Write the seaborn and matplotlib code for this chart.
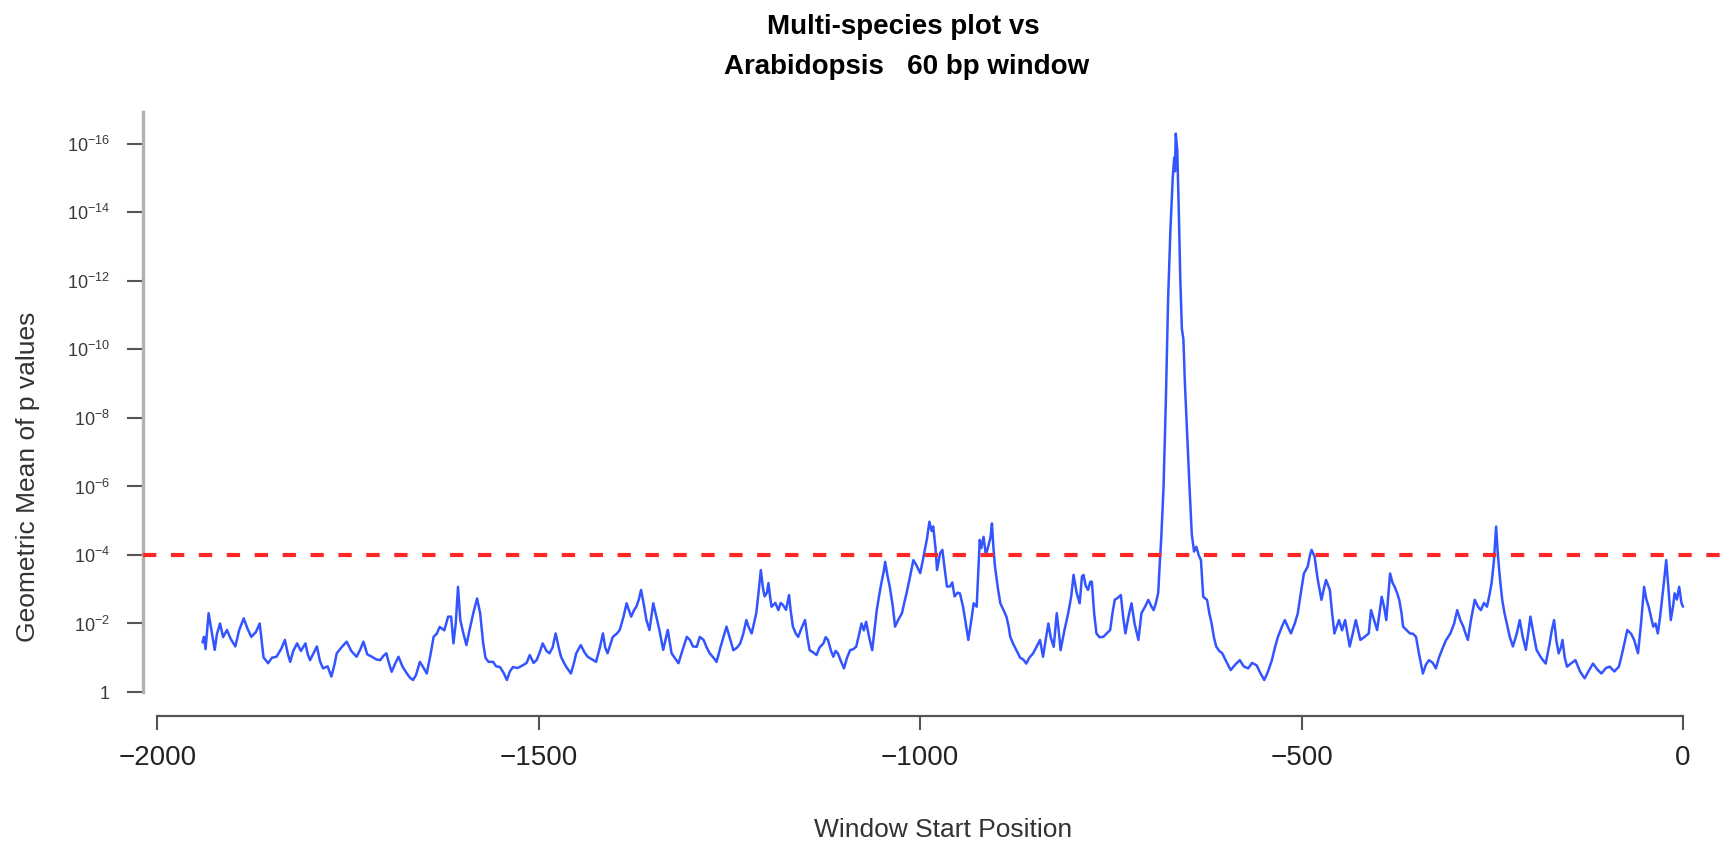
import matplotlib
matplotlib.use("Agg")
import matplotlib.pyplot as plt
import seaborn as sns
import pandas as pd

# ---- data (window start position, -log10 geometric mean p) ----
positions = [
    -1941, -1939, -1937, -1933, -1930, -1925, -1922, -1918, -1914, -1909, -1904, -1898, -1893, -1887, -1882, -1877,
    -1871, -1866, -1861, -1855, -1850, -1844, -1838, -1833, -1829, -1826, -1822, -1817, -1812, -1806, -1803, -1800,
    -1795, -1791, -1787, -1783, -1777, -1772, -1768, -1765, -1759, -1752, -1746, -1739, -1734, -1730, -1725, -1719,
    -1713, -1708, -1704, -1700, -1696, -1693, -1688, -1684, -1679, -1673, -1669, -1665, -1661, -1656, -1651, -1647,
    -1642, -1638, -1634, -1630, -1624, -1619,
    -1615, -1612, -1609, -1606, -1603, -1599, -1595, -1591, -1586, -1581, -1577, -1573, -1570, -1566, -1560, -1556,
    -1551, -1546, -1542, -1538, -1534, -1528, -1521, -1516, -1512, -1507, -1503, -1499, -1495, -1490, -1486, -1482,
    -1478, -1474, -1471, -1467, -1464, -1458, -1454, -1451, -1445, -1440, -1436, -1430, -1425, -1420, -1416, -1413,
    -1410, -1406, -1403, -1398, -1394, -1389, -1385, -1379, -1375, -1372, -1369, -1366, -1362, -1359, -1355, -1350,
    -1346, -1342, -1337, -1331, -1326, -1322, -1317, -1312, -1306, -1302, -1298, -1293,
    -1289, -1284, -1280, -1276, -1271, -1267, -1262, -1258, -1254, -1250, -1245, -1240, -1236, -1232, -1228, -1225,
    -1221, -1218, -1215, -1212, -1209, -1206, -1204, -1201, -1199, -1197, -1195, -1190, -1186, -1183, -1180, -1176,
    -1172, -1170, -1167, -1163, -1160, -1155, -1151, -1148, -1145, -1140, -1136, -1132, -1127, -1124, -1121, -1117,
    -1114, -1111, -1108, -1104, -1100, -1096, -1092, -1088, -1084, -1080, -1077, -1074, -1071, -1067, -1063, -1060,
    -1057, -1054, -1051, -1048, -1046, -1043, -1040, -1036, -1033, -1029, -1024, -1021, -1018, -1014, -1009, -1005,
    -1000, -997, -994, -991, -988, -985, -983, -980, -978, -974, -971, -968, -965,
    -961, -958, -955, -951, -948, -944, -941, -939, -937, -933, -930, -926, -924, -922, -920, -917,
    -914, -911, -908, -906, -904, -902, -898, -895, -891, -887, -884, -882, -878, -874, -869, -865,
    -861, -857, -852, -848, -843, -839, -835, -832, -829, -825, -821, -818, -816, -811, -806, -802,
    -799, -795, -791, -788, -786, -783, -780, -777, -775, -772, -769, -765, -760, -756, -751, -748,
    -745, -741, -737, -734, -731, -727, -723, -719, -714, -710, -705, -701, -697, -694, -691, -688,
    -686, -684, -681, -678, -675, -672, -669, -667, -666, -665, -663, -661, -659, -657, -655, -653,
    -650, -647, -644, -641,
    -638, -635, -632, -629, -624, -621, -618, -615, -612, -608, -604, -599, -593, -587, -581, -576,
    -570, -565, -559, -554, -549, -544, -539, -535, -531, -526, -522, -518, -514, -509, -505, -501,
    -497, -492, -489, -487, -483, -479, -474, -471, -468, -463, -460, -457, -451, -447, -443, -437,
    -433, -429, -423, -418, -412, -409, -405, -401, -398, -395, -392, -389, -386, -384, -381, -378,
    -375, -372, -369, -367, -362, -358, -354, -350, -346, -341, -337, -333, -328, -324, -320, -316,
    -311, -305, -300, -296, -292, -288, -285, -282, -278, -273, -269, -265, -261, -257, -254, -251,
    -248, -245, -243, -241, -239, -237, -234, -231, -227, -223, -218, -214, -210, -206, -203, -200,
    -196, -192, -186, -180, -175, -172, -169, -166, -163, -160, -158, -155, -152, -146, -141, -135,
    -129, -124, -118, -112, -107, -101, -96, -90, -84, -79, -76, -73, -68, -64, -59, -55,
    -51, -48, -45, -42, -39, -36, -33, -30, -28, -25, -22, -19, -16, -13, -11, -8,
    -5, -2, 0,
]
neg_log_p = [
    1.45, 1.61, 1.25, 2.30, 1.90, 1.23, 1.70, 2.00, 1.60, 1.81, 1.55, 1.33, 1.80, 2.15, 1.85, 1.61,
    1.75, 2.00, 1.01, 0.84, 1.00, 1.03, 1.25, 1.52, 1.10, 0.88, 1.20, 1.42, 1.20, 1.42, 1.10, 0.93,
    1.15, 1.33, 0.90, 0.69, 0.75, 0.45, 0.80, 1.13, 1.30, 1.47, 1.20, 1.03, 1.25, 1.47, 1.10, 1.03,
    0.95, 0.93, 1.05, 1.13, 0.80, 0.59, 0.85, 1.03, 0.75, 0.54, 0.42, 0.35, 0.50, 0.88, 0.70, 0.54,
    1.10, 1.61, 1.70, 1.90, 1.80, 2.20,
    2.20, 1.42, 2.00, 3.07, 2.10, 1.71, 1.37, 1.80, 2.30, 2.73, 2.30, 1.42, 1.00, 0.88, 0.88, 0.75,
    0.73, 0.55, 0.35, 0.60, 0.73, 0.70, 0.78, 0.85, 1.08, 0.85, 0.93, 1.15, 1.42, 1.20, 1.13, 1.30,
    1.71, 1.30, 1.03, 0.85, 0.73, 0.54, 0.85, 1.13, 1.37, 1.15, 1.03, 0.95, 0.88, 1.30, 1.71, 1.30,
    1.13, 1.40, 1.61, 1.70, 1.81, 2.20, 2.59, 2.20, 2.40, 2.50, 2.70, 2.98, 2.50, 2.10, 1.81, 2.59,
    2.20, 1.81, 1.23, 1.81, 1.13, 1.00, 0.84, 1.20, 1.61, 1.52, 1.33, 1.32,
    1.61, 1.52, 1.30, 1.13, 1.00, 0.88, 1.30, 1.61, 1.91, 1.60, 1.22, 1.30, 1.42, 1.70, 2.10, 1.90,
    1.71, 2.00, 2.30, 2.90, 3.56, 3.00, 2.79, 2.90, 3.18, 2.80, 2.49, 2.60, 2.39, 2.60, 2.54, 2.40,
    2.83, 2.40, 1.91, 1.70, 1.61, 1.90, 2.10, 1.60, 1.22, 1.15, 1.08, 1.30, 1.42, 1.60, 1.52, 1.20,
    1.03, 1.20, 1.13, 0.90, 0.69, 1.00, 1.22, 1.25, 1.32, 1.70, 2.00, 1.80, 2.05, 1.60, 1.22, 1.80,
    2.39, 2.80, 3.18, 3.50, 3.80, 3.40, 3.08, 2.50, 1.91, 2.10, 2.30, 2.60, 2.88, 3.30, 3.85, 3.70,
    3.47, 3.80, 4.15, 4.50, 4.97, 4.70, 4.83, 4.20, 3.56, 4.05, 4.15, 3.60, 3.08,
    3.08, 3.20, 2.79, 2.90, 2.88, 2.50, 2.10, 1.80, 1.52, 2.10, 2.59, 2.49, 3.50, 4.44, 4.20, 4.53,
    4.00, 4.24, 4.50, 4.92, 4.20, 3.66, 3.00, 2.59, 2.40, 2.20, 1.90, 1.61, 1.40, 1.22, 1.00, 0.95,
    0.83, 1.00, 1.13, 1.30, 1.52, 1.03, 1.60, 2.00, 1.60, 1.32, 2.30, 1.70, 1.22, 1.80, 2.30, 2.80,
    3.42, 2.90, 2.59, 3.37, 3.42, 3.10, 2.98, 3.22, 3.22, 2.30, 1.71, 1.60, 1.61, 1.70, 1.81, 2.30,
    2.69, 2.75, 2.83, 2.20, 1.71, 2.20, 2.59, 2.00, 1.52, 2.30, 2.50, 2.69, 2.50, 2.39, 2.60, 2.90,
    3.75, 4.50, 6.00, 8.50, 11.50, 13.50, 15.00, 15.60, 15.20, 16.30, 15.80, 14.00, 12.00, 10.60, 10.30, 9.00,
    7.50, 6.00, 4.60, 4.10,
    4.24, 4.00, 3.85, 2.78, 2.69, 2.30, 2.00, 1.60, 1.33, 1.20, 1.13, 0.90, 0.64, 0.80, 0.93, 0.75,
    0.69, 0.85, 0.78, 0.55, 0.35, 0.60, 0.93, 1.30, 1.61, 1.90, 2.10, 1.90, 1.71, 2.00, 2.30, 2.90,
    3.46, 3.66, 4.00, 4.15, 3.95, 3.30, 2.69, 3.00, 3.27, 2.98, 2.30, 1.71, 2.10, 1.80, 2.10, 1.33,
    1.70, 2.10, 1.52, 1.60, 1.71, 2.39, 2.10, 1.81, 2.30, 2.78, 2.50, 2.10, 2.90, 3.46, 3.20, 3.07,
    2.90, 2.69, 2.30, 1.91, 1.80, 1.71, 1.70, 1.61, 1.10, 0.54, 0.80, 0.93, 0.85, 0.69, 1.00, 1.23,
    1.50, 1.71, 2.00, 2.39, 2.10, 1.91, 1.70, 1.52, 2.10, 2.69, 2.50, 2.39, 2.60, 2.49, 2.80, 3.17,
    3.80, 4.83, 4.10, 3.56, 3.10, 2.69, 2.30, 2.00, 1.60, 1.33, 1.70, 2.10, 1.60, 1.23, 1.70, 2.20,
    1.70, 1.23, 1.00, 0.83, 1.40, 1.80, 2.10, 1.50, 1.13, 1.30, 1.52, 1.00, 0.74, 0.85, 0.93, 0.60,
    0.40, 0.60, 0.83, 0.65, 0.54, 0.70, 0.74, 0.60, 0.74, 1.20, 1.50, 1.81, 1.70, 1.52, 1.13, 2.00,
    3.07, 2.70, 2.49, 2.20, 1.91, 2.00, 1.71, 2.20, 2.59, 3.20, 3.85, 3.00, 2.10, 2.50, 2.88, 2.70,
    3.07, 2.60, 2.49,
]
threshold = 4
x_ticks = [-2000, -1500, -1000, -500, 0]
x_tick_labels = ["\u22122000", "\u22121500", "\u22121000", "\u2212500", "0"]
y_ticks = [0, 2, 4, 6, 8, 10, 12, 14, 16]
y_tick_labels = ["1"] + [r"$10^{-%d}$" % k for k in y_ticks[1:]]
title_lines = ["Multi-species plot vs", "Arabidopsis   60 bp window"]
x_label = "Window Start Position"
y_label = "Geometric Mean of p values"

df = pd.DataFrame({"pos": positions, "val": neg_log_p})

sns.set_style("white")
plt.rcParams["font.family"] = ["Liberation Sans", "DejaVu Sans"]
plt.rcParams["mathtext.fontset"] = "custom"
plt.rcParams["mathtext.rm"] = "Liberation Sans"
plt.rcParams["mathtext.it"] = "Liberation Sans"
plt.rcParams["mathtext.bf"] = "Liberation Sans:bold"

W, H = 1727, 841
fig = plt.figure(figsize=(W / 100, H / 100), dpi=100)
left_px, right_px, top_px, bottom_px = 142.7, 1727, 112, 716
ax = fig.add_axes([left_px / W, 1 - bottom_px / H, (right_px - left_px) / W, (bottom_px - top_px) / H])

sns.lineplot(data=df, x="pos", y="val", ax=ax, color="#3355ff", linewidth=1.8,
             estimator=None, sort=False, zorder=2)
ax.axhline(threshold, color="#ff2626", linewidth=3, linestyle=(0, (3.2, 3.5)), zorder=3)

ax.set_xlim(-2019.4, 57.7)
ax.set_ylim(-0.70, 16.93)
ax.set_xticks(x_ticks)
ax.set_xticklabels(x_tick_labels)
ax.set_yticks(y_ticks)
ax.set_yticklabels(y_tick_labels)
ax.set_xlabel("")
ax.set_ylabel("")

for s in ["top", "right"]:
    ax.spines[s].set_visible(False)
ax.spines["left"].set_color("#b0b0b0")
ax.spines["left"].set_linewidth(2.4)
ax.spines["left"].set_bounds(0, 16.93)
ax.spines["bottom"].set_color("#555555")
ax.spines["bottom"].set_linewidth(1.6)
ax.spines["bottom"].set_bounds(-2000, 0)

ax.tick_params(axis="y", direction="out", length=11.5, width=1.5, color="#555555",
               labelsize=13, labelcolor="#3a3a3a", pad=12, left=True)
ax.tick_params(axis="x", direction="out", length=10, width=1.5, color="#555555",
               labelsize=20, labelcolor="#222222", pad=11, bottom=True)

fig.text(903 / W, 1 - 27 / H, title_lines[0], ha="center", va="center", fontsize=20,
         fontweight="bold", color="black")
fig.text(907 / W, 1 - 67 / H, title_lines[1], ha="center", va="center", fontsize=20,
         fontweight="bold", color="black")
fig.text(943 / W, 1 - 830 / H, x_label, ha="center", va="center", fontsize=19, color="#333333")
fig.text(28 / W, 1 - 477 / H, y_label, ha="center", va="center", fontsize=19, color="#333333", rotation=90)

fig.savefig("out.png", dpi=100)
